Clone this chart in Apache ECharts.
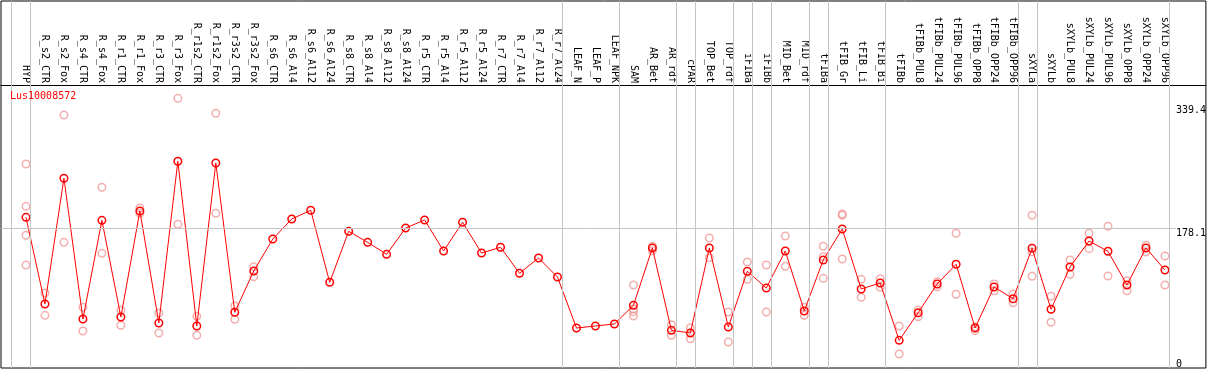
<!DOCTYPE html>
<html>
<head>
<meta charset="utf-8">
<script src="https://cdn.jsdelivr.net/npm/echarts@6/dist/echarts.min.js"></script>
<style>
html,body{margin:0;padding:0;background:#fff;}
#chart{width:1209px;height:370px;}
</style>
</head>
<body>
<div id="chart"></div>
<script>
const geneName = 'Lus10008572';
const categories = ['HYP','R_s2_CTR','R_s2_Fox','R_s4_CTR','R_s4_Fox','R_r1_CTR','R_r1_Fox','R_r3_CTR','R_r3_Fox','R_r1s2_CTR','R_r1s2_Fox','R_r3s2_CTR','R_r3s2_Fox','R_s6_CTR','R_s6_Al4','R_s6_Al12','R_s6_Al24','R_s8_CTR','R_s8_Al4','R_s8_Al12','R_s8_Al24','R_r5_CTR','R_r5_Al4','R_r5_Al12','R_r5_Al24','R_r7_CTR','R_r7_Al4','R_r7_Al12','R_r7_Al24','LEAF_N','LEAF_P','LEAF_NPK','SAM','AR_Bet','AR_rdf','cPAR','TOP_Bet','TOP_rdf','iFIBa','iFIBb','MID_Bet','MID_rdf','tFIBa','tFIB_Gr','tFIB_Li','tFIB_Bi','tFIBb','tFIBb_PUL8','tFIBb_PUL24','tFIBb_PUL96','tFIBb_OPP8','tFIBb_OPP24','tFIBb_OPP96','sXYLa','sXYLb','sXYLb_PUL8','sXYLb_PUL24','sXYLb_PUL96','sXYLb_OPP8','sXYLb_OPP24','sXYLb_OPP96'];
const means = [192.4,79.0,243.5,59.4,188.5,62.0,200.7,54.2,265.7,50.2,263.5,68.2,122.2,164.0,190.2,201.6,107.4,174.1,159.7,144.0,178.4,188.9,148.4,185.9,145.7,153.2,119.2,139.2,114.3,47.6,50.2,52.9,77.3,152.3,44.6,41.1,152.3,48.9,121.8,99.9,148.4,69.9,136.6,177.1,98.6,106.5,31.5,67.6,105.2,131.0,47.6,101.3,85.9,151.9,72.1,127.4,161.4,148.0,103.9,152.3,123.5];
const replicates = [
  [262.1,206.8,168.9,130.0],[93.4,64.2],[326.3,159.7],[74.7,43.7],[231.7,145.3],[70.8,51.2],[204.6,197.7],[67.2,41.1],[348.1,183.3],[62.9,38.1],[328.5,197.7],[76.4,59.0],[127.8,114.7],
  [],[],[],[],[],[],[],[],[],[],[],[],[],[],[],[],[],[],[],
  [103.9,72.5,69.0,63.3],[154.2,148.7],[51.9,38.1],[48.0,33.6],[165.4,139.6],[68.5,29.3],[134.0,111.3],[130.0,68.5],[168.0,128.3],[74.7,64.2],[154.5,140.9,112.6],[196.8,195.1,137.9],[111.3,87.8],[112.1,100.9],[50.2,13.6],[71.2,62.4],[108.2,101.6],[171.5,91.7],[49.3,44.1],[105.2,96.4],[92.1,80.7],[195.1,147.4,115.3],[89.1,55.1],[136.6,117.9],[171.5,151.4],[180.7,115.6],[109.5,96.4],[155.8,147.0],[141.8,103.9]
];
const groupEnds = [-1,0,28,31,34,35,37,38,39,41,42,45,52,53,60];
const yTickValues = [0,178.1,339.4];
const referenceValue = 178.1;

// layout constants
const xMin = -25/19, xMax = -25/19 + 1206/19;
const yMin = -4.71, yMax = 475.4;
const FONT = 'DejaVu Sans Mono';

const repData = [];
replicates.forEach((arr,i)=>arr.forEach(v=>repData.push([i,v])));
const meanData = means.map((v,i)=>[i,v]);

const chart = echarts.init(document.getElementById('chart'), null, {renderer:'canvas'});
chart.setOption({
  animation:false,
  backgroundColor:'#fff',
  title:{text:geneName,left:10,top:91,padding:0,textStyle:{color:'#ff0000',fontSize:10,fontWeight:'normal',fontFamily:FONT}},
  grid:{left:1,right:2,top:1,bottom:2,show:true,borderColor:'#000',borderWidth:1,backgroundColor:'#fff'},
  xAxis:{type:'value',min:xMin,max:xMax,position:'top',offset:-84,
    axisLine:{show:true,onZero:false,lineStyle:{color:'#000',width:1}},
    axisTick:{show:false},splitLine:{show:false},
    axisLabel:{customValues:categories.map((_,i)=>i),formatter:(v)=>categories[Math.round(v)]||'',rotate:90,margin:2,fontSize:10,fontFamily:FONT,color:'#000'}},
  yAxis:{type:'value',min:yMin,max:yMax,position:'right',
    axisLine:{show:false,onZero:false},axisTick:{show:false},splitLine:{show:false},
    axisLabel:{customValues:yTickValues,inside:true,align:'left',margin:30,fontSize:10,lineHeight:11,fontFamily:FONT,color:'#000',
      formatter:(v)=> v===0 ? '0' : '\n'+v}},
  series:[
    {type:'scatter',name:'replicates',data:repData,symbol:'circle',symbolSize:7.5,silent:true,z:2,
      itemStyle:{color:'rgba(0,0,0,0)',borderColor:'#f09a9a',borderWidth:1.5},
      markLine:{silent:true,symbol:'none',label:{show:false},animation:false,
        lineStyle:{color:'#c4c4c4',width:1,type:'solid'},
        data:[
          ...groupEnds.map(g=>({xAxis:g+0.25})),
          [{coord:[xMin,referenceValue]},{coord:[60.58,referenceValue]}]
        ]}},
    {type:'line',name:geneName,data:meanData,symbol:'circle',symbolSize:7.5,z:3,silent:true,
      lineStyle:{color:'#ff0000',width:1},
      itemStyle:{color:'rgba(0,0,0,0)',borderColor:'#ff0000',borderWidth:1.5}}
  ]
});
</script>
</body>
</html>
